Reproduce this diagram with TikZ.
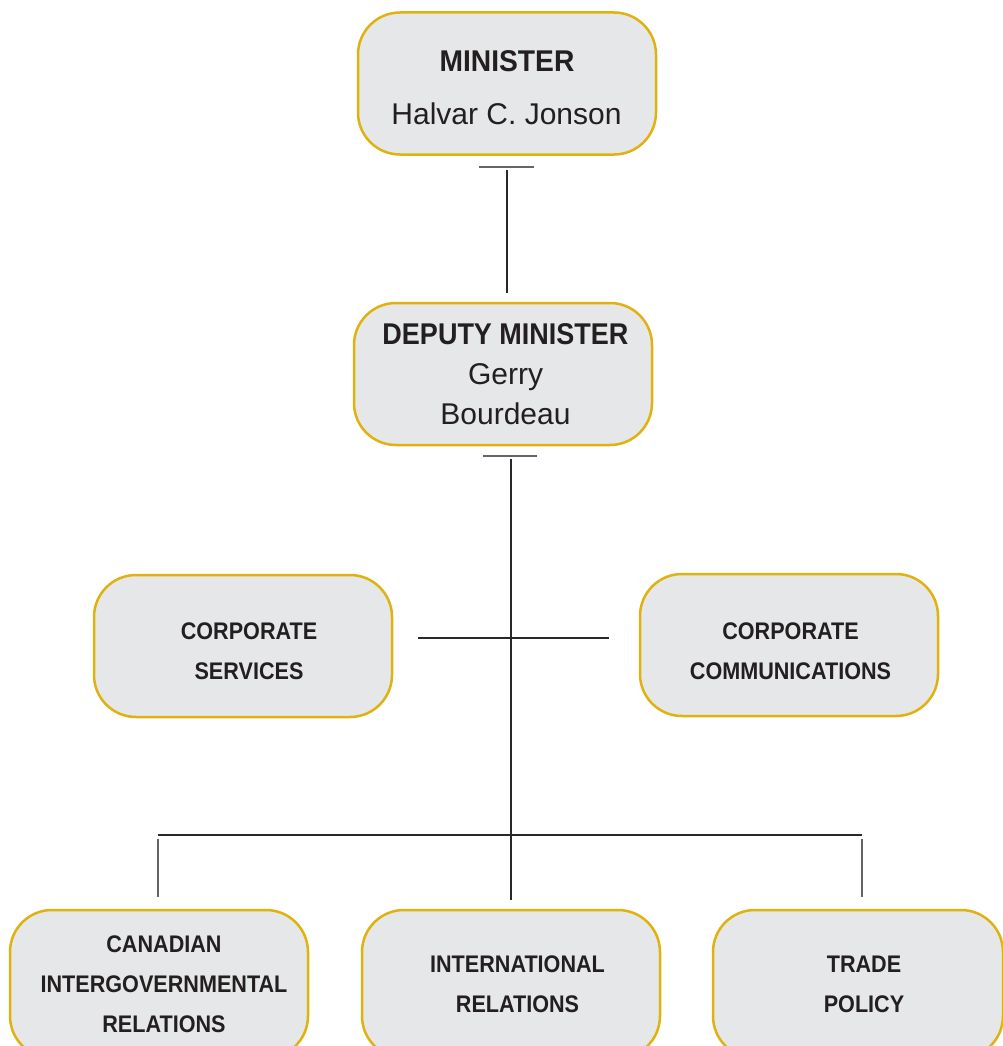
\documentclass[tikz,border=0pt]{standalone}
\usepackage{fontspec}
\setmainfont{Liberation Sans}
\newfontfamily\condfont[FakeStretch=0.9]{Liberation Sans}
\newfontfamily\titlefont[FakeStretch=0.94]{Liberation Sans}
\newcommand\shiftby[1]{\hspace*{#1pt}}
\definecolor{boxgold}{RGB}{224,178,16}
\definecolor{boxgray}{RGB}{230,231,232}
\definecolor{textc}{RGB}{35,31,32}
\definecolor{linec}{RGB}{40,40,40}
\definecolor{barc}{RGB}{100,100,100}
\begin{document}
\begin{tikzpicture}[x=1pt,y=-1pt,
  box/.style={draw=boxgold, fill=boxgray, line width=2.5pt, rounded corners=42pt,
    minimum width=298pt, minimum height=142pt, align=center, inner sep=0pt, text=textc},
  bigtext/.style={font=\fontsize{30}{53}\selectfont},
  deptext/.style={font=\fontsize{30}{40}\selectfont},
  smalltext/.style={font=\condfont\bfseries\fontsize{24}{40}\selectfont},
  link/.style={draw=linec, line width=1.2pt},
  tbar/.style={draw=barc, line width=1.6pt},
  drop/.style={draw=barc, line width=1.4pt}]
\clip (0,0) rectangle (1003,1046);
\fill[white] (0,0) rectangle (1003,1046);

% boxes
\node[box, bigtext] (min) at (507,83.5)
  {{\titlefont\bfseries\rule{0pt}{30pt}MINISTER}\\\shiftby{-1}Halvar C. Jonson};
\node[box, deptext] (dep) at (503,374)
  {\shiftby{5}{\condfont\bfseries DEPUTY MINISTER}\\\shiftby{5}Gerry\\\shiftby{5}Bourdeau};
\node[box, smalltext] (cs) at (243,646)
  {\shiftby{12}\rule{0pt}{28pt}CORPORATE\\\shiftby{12}SERVICES};
\node[box, smalltext] (cc) at (789,645)
  {\shiftby{3}\rule{0pt}{29pt}CORPORATE\\\shiftby{3}COMMUNICATIONS};
\node[box, smalltext, minimum height=148pt] (cir) at (159,984)
  {\shiftby{10}CANADIAN\\\shiftby{10}INTERGOVERNMENTAL\\\shiftby{10}RELATIONS};
\node[box, smalltext, minimum height=148pt] (ir) at (511,984)
  {\shiftby{13}INTERNATIONAL\\\shiftby{13}RELATIONS};
\node[box, smalltext, minimum width=290pt, minimum height=148pt] (tp) at (858,984)
  {\shiftby{12}TRADE\\\shiftby{12}POLICY};

% connector coordinates
\coordinate (barAL) at (479,167);
\coordinate (barAR) at (534,167);
\coordinate (vAtop) at (507,170);
\coordinate (vAbot) at (507,293);
\coordinate (barBL) at (483,456);
\coordinate (barBR) at (537,456);
\coordinate (vBtop) at (511,459);
\coordinate (vBbot) at (511,900);
\coordinate (hCL) at (418,638);
\coordinate (hCR) at (609,638);
\coordinate (hDL) at (158,835);
\coordinate (hDR) at (862,835);
\coordinate (dLtop) at (158,839);
\coordinate (dLbot) at (158,897);
\coordinate (dRtop) at (862,839);
\coordinate (dRbot) at (862,897);

\draw[tbar] (barAL) -- (barAR);
\draw[link] (vAtop) -- (vAbot);
\draw[tbar] (barBL) -- (barBR);
\draw[link] (vBtop) -- (vBbot);
\draw[link] (hCL) -- (hCR);
\draw[link] (hDL) -- (hDR);
\draw[drop] (dLtop) -- (dLbot);
\draw[drop] (dRtop) -- (dRbot);
\end{tikzpicture}
\end{document}
